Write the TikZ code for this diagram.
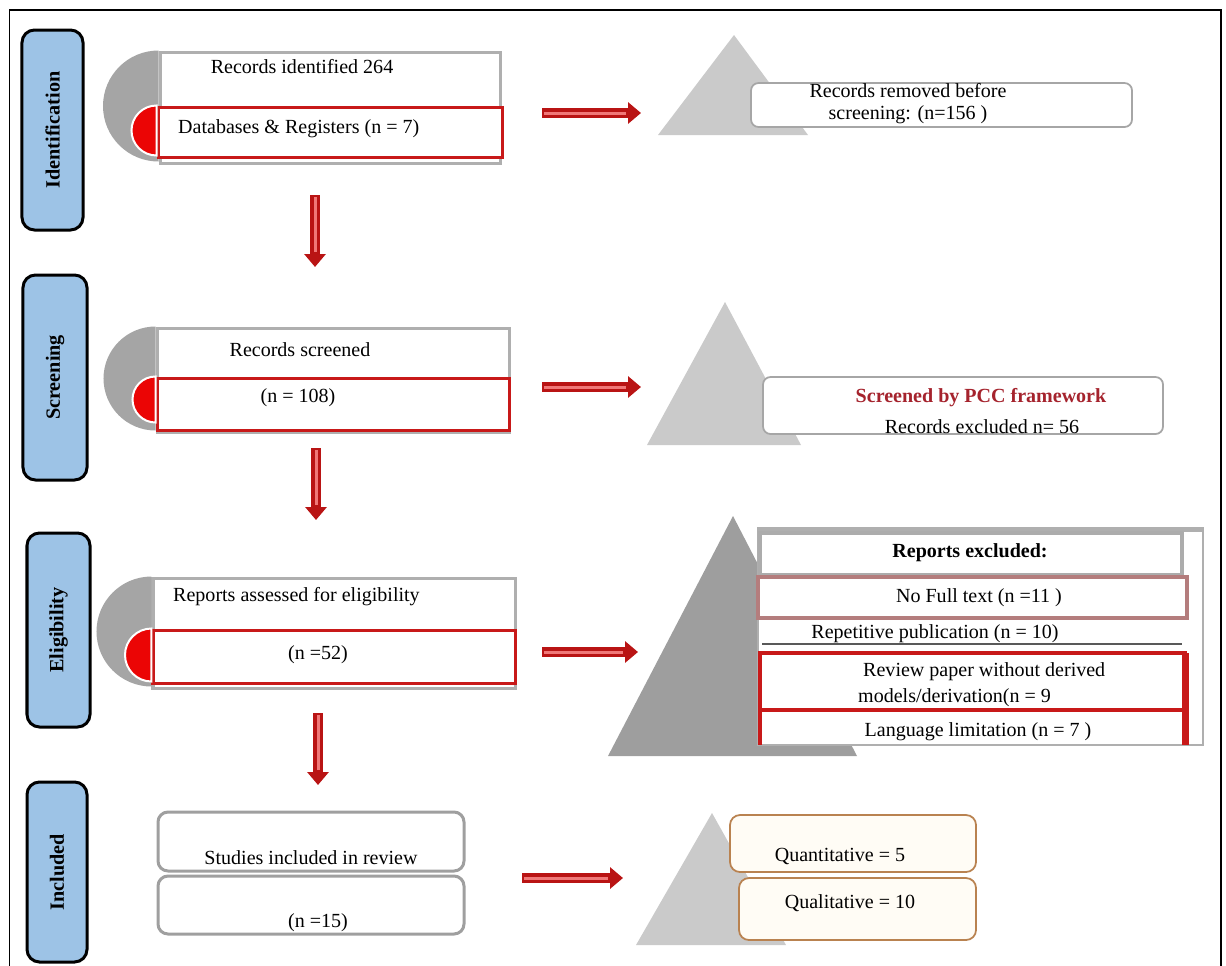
\documentclass[tikz,border=0pt]{standalone}
\usepackage{fontspec}
\setmainfont{Liberation Serif}
\usetikzlibrary{arrows.meta}
\definecolor{stageblue}{RGB}{157,195,230}
\definecolor{boxred}{RGB}{200,25,25}
\definecolor{discred}{RGB}{235,5,5}
\definecolor{arcgray}{RGB}{165,165,165}
\definecolor{rowgray}{RGB}{175,175,175}
\definecolor{trigray}{RGB}{202,202,202}
\definecolor{darktri}{RGB}{158,158,158}
\definecolor{pccred}{RGB}{165,35,45}
\definecolor{rosy}{RGB}{180,125,125}
\definecolor{typetan}{RGB}{185,130,80}
\definecolor{cream}{RGB}{255,252,245}
\definecolor{arrowred}{RGB}{185,20,20}
\definecolor{arrowlight}{RGB}{240,120,120}

\begin{document}
\begin{tikzpicture}[x=0.2mm, y=-0.2mm,
  every node/.style={font=\fontsize{11.4}{12.5}\selectfont},
  stage/.style={draw, line width=0.6mm, rounded corners=2.5mm, fill=stageblue, rotate=90, font=\fontsize{11.5}{12}\selectfont\bfseries, inner sep=0pt},
  rowbox/.style={draw=rowgray, line width=0.6mm, fill=white, inner sep=0pt},
  redbox/.style={draw=boxred, line width=0.6mm, fill=white, inner sep=0pt},
  notebox/.style={draw=gray!70, line width=0.35mm, rounded corners=1.5mm, fill=white, inner sep=0pt},
  studybox/.style={draw=gray!75, line width=0.6mm, rounded corners=2mm, fill=white, inner sep=0pt},
  typebox/.style={draw=typetan, line width=0.35mm, rounded corners=2mm, fill=cream, inner sep=0pt},
  cellbox/.style={line width=0.8mm, fill=white, inner sep=0pt},
  flowarr/.style={line width=2mm, draw=arrowred, -{Triangle[length=2.6mm, width=4.2mm]},
    postaction={draw=arrowlight, line width=0.6mm, -, shorten >=3mm, shorten <=0.4mm}}]
\useasboundingbox (0,0) rectangle (1226,965);
\draw[line width=0.35mm] (9.5,10) rectangle (1221,1000);

% identification
\node[stage, minimum width=40mm, minimum height=12.2mm] (ident) at (52.5,130) {Identification};
\node[rowbox, minimum width=68mm, minimum height=22.2mm] (rb1) at (330,107.5) {};
\fill[arcgray] (rb1.north west) arc[start angle=90, end angle=270, radius=11.1mm] -- cycle;
\node[redbox, minimum width=68.8mm, minimum height=10mm] (db1) at (330,132) {};
\filldraw[fill=discred, draw=white, line width=0.4mm] (db1.north west) arc[start angle=90, end angle=270, radius=5mm] -- cycle;
\node (t1a) at (302,67) {Records identified 264};
\node[anchor=west] (t1b) at (172,129) {Databases \& Registers (n = 7)};
\fill[trigray] (734,35) -- (808,135) -- (658,135) -- cycle;
\node[notebox, minimum width=76.2mm, minimum height=8.8mm] (rm) at (941.5,105) {};
\node[align=center] (t1c) at (908,104) {Records removed before\\screening: (n=156 )};
\coordinate (a1s) at (542,113);
\coordinate (a1e) at (641,113);
\draw[flowarr] (a1s) -- (a1e);
\coordinate (d1s) at (315,195);
\coordinate (d1e) at (315,267);
\draw[flowarr] (d1s) -- (d1e);

% screening
\node[stage, minimum width=41mm, minimum height=12.8mm] (screen) at (55,377.5) {Screening};
\node[rowbox, minimum width=70.4mm, minimum height=20.8mm] (rb2) at (333,380) {};
\fill[arcgray] (rb2.north west) arc[start angle=90, end angle=270, radius=10.4mm] -- cycle;
\node[redbox, minimum width=70.4mm, minimum height=10.4mm] (db2) at (333,404) {};
\filldraw[fill=discred, draw=white, line width=0.4mm] (db2.north west) arc[start angle=90, end angle=270, radius=4.6mm] -- cycle;
\node (t2a) at (300,350) {Records screened};
\node (t2b) at (298,398) {(n = 108)};
\fill[trigray] (725,302) -- (801,445) -- (647,445) -- cycle;
\node[notebox, minimum width=80mm, minimum height=11.4mm] (pcc) at (963,405.5) {};
\node[text=pccred, font=\fontsize{11.4}{12}\selectfont\bfseries] (t2c) at (981,398) {Screened by PCC framework};
\node (t2d) at (982,427) {Records excluded n= 56};
\coordinate (a2s) at (542,387);
\coordinate (a2e) at (641,387);
\draw[flowarr] (a2s) -- (a2e);
\coordinate (d2s) at (316,448);
\coordinate (d2e) at (316,520);
\draw[flowarr] (d2s) -- (d2e);

% eligibility
\node[stage, minimum width=38.8mm, minimum height=12.6mm] (elig) at (58.5,630) {Eligibility};
\node[rowbox, minimum width=72.4mm, minimum height=22mm] (rb3) at (334,633) {};
\fill[arcgray] (rb3.north west) arc[start angle=90, end angle=270, radius=11mm] -- cycle;
\node[redbox, minimum width=72.4mm, minimum height=10.6mm] (db3) at (334,656.5) {};
\filldraw[fill=discred, draw=white, line width=0.4mm] (db3.north west) arc[start angle=90, end angle=270, radius=5.3mm] -- cycle;
\node[anchor=west] (t3a) at (167,597) {Reports assessed for eligibility};
\node (t3b) at (318,655) {(n =52)};
\fill[darktri] (733,516) -- (857,756) -- (608,756) -- cycle;
\node[draw=rowgray, line width=0.4mm, fill=white, minimum width=89mm, minimum height=43mm, inner sep=0pt] (panel) at (980.5,637.5) {};
\draw[rowgray, line width=1mm] (panel.north west) -- (panel.north east);
\node[cellbox, draw=gray!65, minimum width=84.4mm, minimum height=8.4mm] (excl) at (971,554) {};
\node[font=\fontsize{11.4}{12}\selectfont\bfseries] (t3c) at (970,553) {Reports excluded:};
\node[cellbox, draw=rosy, minimum width=85.8mm, minimum height=8.2mm] (nofull) at (972.5,597.5) {};
\node (t3d) at (979,598) {No Full text (n =11 )};
\node (t3e) at (935,634) {Repetitive publication (n = 10)};
\draw[line width=0.25mm, gray!70!black] (762,644) -- (1182,644);
\node[cellbox, draw=boxred, line width=0.9mm, minimum width=85mm, minimum height=11.4mm] (review) at (972.5,681.5) {};
\node[align=left, anchor=west, font=\fontsize{11.4}{14.7}\selectfont] (t3f) at (852,685) {\ Review paper without derived\\models/derivation(n = 9};
\draw[boxred, line width=0.9mm] (760,710) -- (760,745);
\draw[boxred, line width=1.4mm] (1185,653) -- (1185,745);
\node (t3g) at (978,732) {Language limitation (n = 7 )};
\coordinate (a3s) at (542,652);
\coordinate (a3e) at (638,652);
\draw[flowarr] (a3s) -- (a3e);
\coordinate (d3s) at (318,713);
\coordinate (d3e) at (318,785);
\draw[flowarr] (d3s) -- (d3e);

% included
\node[stage, minimum width=36mm, minimum height=12mm] (incl) at (57,872) {Included};
\node[studybox, minimum width=61.2mm, minimum height=11.8mm] (stud) at (311,841.5) {};
\node[studybox, minimum width=61.2mm, minimum height=11.6mm] (studn) at (311,905) {};
\node (t4a) at (311,858) {Studies included in review};
\node (t4b) at (318,923) {(n =15)};
\fill[trigray] (712,813) -- (786,945) -- (636,945) -- cycle;
\node[typebox, minimum width=49.2mm, minimum height=11.4mm] (quant) at (853,843.5) {};
\node[typebox, minimum width=47.4mm, minimum height=12.4mm] (qual) at (857.5,909) {};
\node (t4c) at (840,856) {Quantitative = 5};
\node (t4d) at (850,903) {Qualitative = 10};
\coordinate (a4s) at (522,878);
\coordinate (a4e) at (623,878);
\draw[flowarr] (a4s) -- (a4e);
\end{tikzpicture}
\end{document}
